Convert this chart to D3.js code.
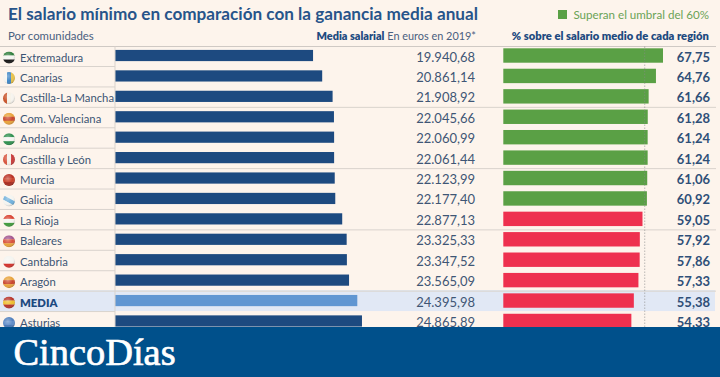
<!DOCTYPE html>
<html><head><meta charset="utf-8">
<script src="https://cdnjs.cloudflare.com/ajax/libs/d3/7.8.5/d3.min.js"></script>
<style>html,body{margin:0;padding:0;background:#fdf4ec}svg{display:block}text{font-family:Lato,sans-serif}</style>
</head><body><svg id="c" width="720" height="377"></svg>
<script>
const regions=["Extremadura","Canarias","Castilla-La Mancha","Com. Valenciana","Andalucía","Castilla y León","Murcia","Galicia","La Rioja","Baleares","Cantabria","Aragón","MEDIA","Asturias"];
const salaries=[19940.68,20861.14,21908.92,22045.66,22060.99,22061.44,22123.99,22177.40,22877.13,23325.33,23347.52,23565.09,24395.98,24865.89];
const shares=[67.75,64.76,61.66,61.28,61.24,61.24,61.06,60.92,59.05,57.92,57.86,57.33,55.38,54.33];
const flags=[["#2f7d3c","#f4f4f0","#161616"],["#f4f4f0","#3f86c6","#e8c24a"],["#c9542b","#f6f1e6","#f6f3ee"],["#e8a23a","#c9442b","#e8a23a"],["#2f8f4e","#f4f4f0","#2f8f4e"],["#d8553f","#f4efe8","#c93b3b"],["#b92f22","#c9402a","#a82a1e"],["#f4f4f0","#6fb0dc","#f4f4f0"],["#d9402f","#f4f4f0","#3f9a3c"],["#a3568f","#d8503a","#e8a23a"],["#f4f4f0","#f4f4f0","#d3322c"],["#e8a23a","#c9442b","#e8a23a"],["#b8352a","#eec02f","#b8352a"],["#4f7fbe","#5e8cc8","#4a78b4"]];
const verticalFlags=["Canarias","Castilla-La Mancha","Castilla y León"], diagonalFlags=["Galicia"];
const thresholdShare=60, meanRegion="MEDIA";
const navy="#1d4a80", grey="#d9d3cd";
const svg=d3.select("#c");
const fmt=d3.formatLocale({decimal:",",thousands:".",grouping:[3],currency:["",""]}).format(",.2f");
const y=d3.scaleBand().domain(regions).range([45.3,45.3+20.42*14]).paddingInner(0).paddingOuter(0);
const xS=d3.scaleLinear().domain([0,25000]).range([115,363.3]);
const xP=d3.scaleLinear().domain([0,70]).range([503.3,668.3]);
const rows=svg.selectAll("g.r").data(regions).join("g").attr("class","r");
const h=y.bandwidth(), cy=d=>y(d)+h/2;

svg.insert("rect","g.r").attr("x",0).attr("width",715).attr("y",y(meanRegion)+h/2-10.5).attr("height",21).attr("fill","#e1e8f5");

svg.append("line").attr("x1",0).attr("x2",716).attr("y1",46.5).attr("y2",46.5).attr("stroke","#cfc9c4");
regions.forEach((r,i)=>{ if(i===0) return;
  const ly=y(r)+0.8;
  svg.append("line").attr("x1",0).attr("x2",i%3===0?716:115).attr("y1",ly).attr("y2",ly).attr("stroke",grey);
});
svg.append("line").attr("x1",115).attr("x2",115).attr("y1",46.5).attr("y2",327).attr("stroke",grey);

rows.append("rect").attr("x",xS(0)).attr("y",d=>cy(d)-5.6).attr("height",11.2)
 .attr("width",(d,i)=>xS(salaries[i])-xS(0)).attr("fill",d=>d===meanRegion?"#6096d2":navy);
rows.append("rect").attr("x",xP(0)).attr("y",d=>cy(d)-7.2).attr("height",14.4)
 .attr("width",(d,i)=>xP(shares[i])-xP(0)).attr("fill",(d,i)=>shares[i]>thresholdShare?"#5aa045":"#ee304f");
svg.append("line").attr("x1",xP(thresholdShare)).attr("x2",xP(thresholdShare)).attr("y1",46.5).attr("y2",327)
 .attr("stroke","#8a8a8a").attr("stroke-width",0.8).attr("stroke-dasharray","1.5 1.5").attr("opacity",.7);

rows.append("text").attr("x",20).attr("y",d=>cy(d)+6).attr("font-size",11.3).attr("fill",d=>d===meanRegion?navy:"#3c5474")
 .attr("font-weight",d=>d===meanRegion?800:400).text(d=>d);
rows.append("text").attr("x",475).attr("y",d=>cy(d)+6).attr("text-anchor","end").attr("font-size",13).attr("fill","#3f5675").text((d,i)=>fmt(salaries[i]));
rows.append("text").attr("x",710).attr("y",d=>cy(d)+6).attr("text-anchor","end").attr("font-size",13).attr("font-weight",700).attr("fill","#2f4f78").text((d,i)=>d3.format(".2f")(shares[i]).replace(".",","));

const defs=svg.append("defs");
const shade=defs.append("radialGradient").attr("id","shade").attr("cx","40%").attr("cy","35%").attr("r","70%");
shade.append("stop").attr("offset","0%").attr("stop-color","#fff").attr("stop-opacity",.35);
shade.append("stop").attr("offset","60%").attr("stop-color","#fff").attr("stop-opacity",0);
shade.append("stop").attr("offset","100%").attr("stop-color","#000").attr("stop-opacity",.3);
regions.forEach((r,i)=>{
  const id="f"+i, fx=9, fy=cy(r)+2;
  defs.append("clipPath").attr("id",id).append("circle").attr("cx",fx).attr("cy",fy).attr("r",6);
  const g=svg.append("g").attr("clip-path",`url(#${id})`);
  const inner=g.append("g");
  const vert=verticalFlags.includes(r);
  if(diagonalFlags.includes(r)) inner.attr("transform",`rotate(28 ${fx} ${fy})`);
  flags[i].forEach((c,k)=>{
    const a=inner.append("rect").attr("fill",c);
    if(vert) a.attr("x",fx-6+k*4).attr("width",4.2).attr("y",fy-6).attr("height",12);
    else a.attr("x",fx-9).attr("width",18).attr("y",fy-6+k*4).attr("height",4.2);
  });
  g.append("circle").attr("cx",fx).attr("cy",fy).attr("r",6).attr("fill","url(#shade)");
});

svg.append("text").attr("x",8).attr("y",19.5).attr("font-size",17.15).attr("font-weight",700).attr("fill","#27548a").text("El salario mínimo en comparación con la ganancia media anual");
svg.append("text").attr("x",8).attr("y",40).attr("font-size",11.4).attr("fill","#4a6080").text("Por comunidades");
const t=svg.append("text").attr("x",476).attr("y",40).attr("text-anchor","end").attr("font-size",10.9).attr("fill","#4a6080");
t.append("tspan").attr("font-weight",800).attr("fill",navy).text("Media salarial");
t.append("tspan").text(" En euros en 2019*");
svg.append("text").attr("x",709).attr("y",40).attr("text-anchor","end").attr("font-size",11.2).attr("font-weight",800).attr("fill",navy).text("% sobre el salario medio de cada región");
svg.append("rect").attr("x",558).attr("y",10).attr("width",9).attr("height",9).attr("fill","#5aa045");
svg.append("text").attr("x",709).attr("y",19).attr("text-anchor","end").attr("font-size",11.6).attr("fill","#6aa356").text("Superan el umbral del 60%");

svg.append("rect").attr("x",0).attr("y",327).attr("width",720).attr("height",50).attr("fill","#00508b");
svg.append("text").attr("x",13.5).attr("y",365).attr("font-size",38.4).attr("fill","#fff").attr("stroke","#fff").attr("stroke-width",0.7).style("font-family","'Liberation Serif',serif").text("CincoDías");
</script></body></html>
